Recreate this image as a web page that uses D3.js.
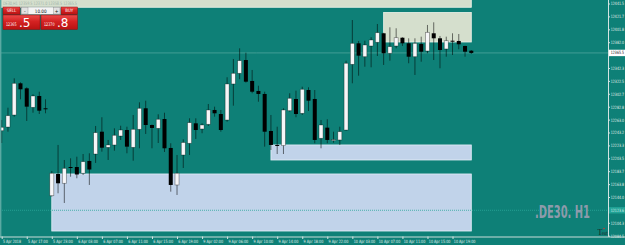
<!DOCTYPE html>
<html>
<head>
<meta charset="utf-8">
<script src="https://cdn.jsdelivr.net/npm/d3@7"></script>
<style>
body { margin: 0; background: #0e8077; }
svg { display: block; }
</style>
</head>
<body>
<div id="chart"></div>
<script>
// DE30 H1 candles
const open = [12245.9, 12251.6, 12270.1, 12318.8, 12311.1, 12281.9, 12299.3, 12280.4, 12146.0, 12179.4,
    12165.1, 12190.1, 12190.1, 12180.5, 12199.4, 12210.1, 12244.4, 12220.4, 12224.0, 12237.8,
    12247.0, 12220.4, 12248.1, 12280.4, 12254.7, 12249.6, 12263.9, 12219.4, 12162.5, 12208.6,
    12226.6, 12257.3, 12248.6, 12255.8, 12277.8, 12271.6, 12262.4, 12317.8, 12334.2, 12354.6,
    12322.4, 12307.0, 12302.4, 12245.5, 12224.0, 12223.2, 12276.7, 12294.7, 12272.7, 12308.5,
    12294.7, 12234.3, 12250.6, 12231.7, 12231.7, 12247.0, 12348.0, 12380.3, 12359.7, 12376.2,
    12381.9, 12395.7, 12365.0, 12376.2, 12388.9, 12380.3, 12359.7, 12379.2, 12368.5, 12395.7,
    12388.0, 12371.6, 12384.3, 12383.9, 12376.2, 12368.9];
const high = [12262.4, 12281.3, 12326.5, 12320.4, 12312.7, 12301.9, 12305.9, 12294.2, 12184.0, 12224.0,
    12200.9, 12203.5, 12206.0, 12210.1, 12211.2, 12253.2, 12266.6, 12231.7, 12249.6, 12253.6,
    12252.1, 12270.1, 12289.6, 12292.1, 12255.5, 12271.2, 12273.6, 12226.6, 12208.6, 12232.7,
    12265.0, 12265.0, 12257.3, 12287.0, 12282.9, 12277.8, 12328.1, 12356.2, 12372.6, 12365.9,
    12339.3, 12315.1, 12305.9, 12270.1, 12252.1, 12280.4, 12303.5, 12307.5, 12313.6, 12312.7,
    12308.5, 12262.4, 12263.5, 12244.4, 12252.1, 12353.6, 12416.1, 12383.9, 12384.3, 12389.6,
    12410.0, 12396.5, 12404.9, 12403.4, 12389.6, 12388.0, 12388.0, 12390.5, 12408.5, 12412.6,
    12391.6, 12390.5, 12395.7, 12394.6, 12376.5, 12370.0];
const low = [12227.0, 12244.4, 12267.5, 12294.2, 12260.9, 12273.6, 12271.6, 12272.7, 12144.5, 12149.7,
    12134.8, 12175.2, 12172.8, 12177.8, 12162.5, 12196.3, 12213.7, 12200.9, 12215.2, 12231.7,
    12211.2, 12199.8, 12218.9, 12240.9, 12218.9, 12227.0, 12213.2, 12152.2, 12147.1, 12188.6,
    12208.6, 12233.2, 12242.0, 12253.2, 12267.5, 12244.4, 12259.8, 12284.4, 12325.0, 12319.8,
    12303.5, 12290.5, 12221.4, 12216.3, 12210.1, 12210.1, 12275.2, 12266.6, 12270.1, 12276.2,
    12226.6, 12218.9, 12226.6, 12227.5, 12224.0, 12245.9, 12318.8, 12330.5, 12344.3, 12343.4,
    12360.8, 12347.0, 12353.6, 12372.6, 12376.2, 12349.6, 12331.6, 12352.0, 12365.0, 12354.6,
    12341.9, 12359.7, 12362.3, 12371.1, 12359.7, 12363.9];
const close = [12251.2, 12269.0, 12318.8, 12309.6, 12282.9, 12299.3, 12276.7, 12280.0, 12180.5, 12165.1,
    12188.1, 12189.6, 12178.6, 12198.3, 12186.3, 12242.9, 12219.8, 12224.0, 12238.9, 12247.0,
    12221.4, 12248.1, 12280.4, 12254.7, 12250.1, 12263.5, 12218.9, 12162.5, 12180.5, 12227.8,
    12258.3, 12247.0, 12254.7, 12277.8, 12272.7, 12247.0, 12317.8, 12334.2, 12353.6, 12321.3,
    12305.9, 12302.4, 12244.4, 12224.0, 12223.5, 12277.8, 12295.8, 12271.6, 12309.6, 12292.1,
    12231.7, 12254.7, 12231.7, 12232.2, 12244.4, 12349.6, 12380.3, 12361.3, 12377.7, 12385.4,
    12396.6, 12365.0, 12375.1, 12388.9, 12380.3, 12359.7, 12380.3, 12367.4, 12397.2, 12388.0,
    12370.0, 12384.3, 12384.0, 12378.8, 12367.4, 12365.5];

const xTickBars = [0, 4, 8, 12, 16, 20, 24, 28, 32, 36, 40, 44, 48, 52, 56, 60, 64, 68, 72];
const xTickLabels = ["5 Apr 2018", "5 Apr 17:00", "5 Apr 23:00", "6 Apr 03:00", "6 Apr 07:00",
    "6 Apr 11:00", "6 Apr 15:00", "6 Apr 19:00", "9 Apr 02:00", "9 Apr 06:00", "9 Apr 10:00",
    "9 Apr 14:00", "9 Apr 18:00", "9 Apr 22:00", "10 Apr 03:00", "10 Apr 07:00", "10 Apr 11:00",
    "10 Apr 15:00", "10 Apr 19:00"];
const yTicks = [12084.5, 12104.3, 12124.2, 12144.0, 12163.8, 12183.7, 12203.5, 12223.3, 12243.2, 12263.0,
    12282.8, 12302.7, 12322.5, 12342.3, 12362.2, 12382.0, 12401.8, 12421.7, 12441.5];

// zones: start bar, end bar, top price, bottom price, kind
const zoneStart = [-2, 61, 43, 8];
const zoneEnd = [75, 75, 75, 75];
const zoneTop = [12460, 12427.7, 12224.0, 12179.4];
const zoneBottom = [12435.7, 12382.3, 12200.9, 12091.7];
const zoneKind = ["supply", "supply", "demand", "demand"];

const bid = 12365.5;
const ask = 12370.8;
const hLine = 12123.6;
const lot = "10.00";
const title = "DE30,H1  12359.5 12371.0 12358.5 12365.5";

const width = 625, height = 245;
const plotW = 608, plotH = 236.5;
const narrow = "'Liberation Sans Narrow', 'DejaVu Sans Condensed', sans-serif";

const svg = d3.select("#chart").append("svg")
    .attr("width", width)
    .attr("height", height)
    .style("font-family", narrow);

// tiny text at a given size and spot, optional len squeezes it to that many pixels
function tiny(sel, size, tx, ty, len) {
    sel.attr("x", tx).attr("y", ty)
        .style("font-size", size + "px")
        .style("font-family", narrow);
    if (len) {
        sel.attr("textLength", function() {
            return typeof len == "function" ? len(this.textContent) : len;
        }).attr("lengthAdjust", "spacingAndGlyphs");
    }
}

const defs = svg.append("defs");
defs.append("clipPath").attr("id", "plot")
    .append("rect").attr("x", 0).attr("y", 0).attr("width", plotW).attr("height", plotH);
const grad = defs.append("linearGradient").attr("id", "red")
    .attr("x1", 0).attr("y1", 0).attr("x2", 0).attr("y2", 1);
grad.append("stop").attr("offset", "0%").attr("stop-color", "#ec4a4a");
grad.append("stop").attr("offset", "45%").attr("stop-color", "#d42222");
grad.append("stop").attr("offset", "100%").attr("stop-color", "#b81212");

svg.append("rect")
    .attr("width", width).attr("height", height)
    .attr("fill", "#0e8077");

const x = d3.scaleLinear().domain([0, 75]).range([1.7, 471.3]);
const y = d3.scaleLinear().domain([12084.5, 12441.5]).range([235.7, 3.5]);

const zoneColor = d3.scaleOrdinal()
    .domain(["supply", "demand"])
    .range(["#d5dfcd", "#c1d3ea"]);

const plot = svg.append("g").attr("clip-path", "url(#plot)");

// zones (behind the candles)
plot.selectAll(".zone")
    .data(zoneStart)
    .enter().append("rect")
    .attr("class", "zone")
    .attr("x", (d, i) => x(d))
    .attr("y", (d, i) => y(zoneTop[i]))
    .attr("width", (d, i) => x(zoneEnd[i]) - x(d))
    .attr("height", (d, i) => y(zoneBottom[i]) - y(zoneTop[i]))
    .attr("fill", (d, i) => zoneColor(zoneKind[i]))
    .attr("stroke", (d, i) => zoneKind[i] == "demand" ? "#e4edf8" : "#eef3ea")
    .attr("stroke-width", 0.8);

// title over the top strip
svg.append("text")
    .style("fill", "#9fb3aa")
    .text(title)
    .call(tiny, 4.6, 3, 5.2, 74);

// bid line
plot.append("line")
    .attr("x1", 0).attr("x2", plotW)
    .attr("y1", y(bid)).attr("y2", y(bid))
    .attr("stroke", "#4fa59d")
    .attr("stroke-width", 0.8);

// dotted horizontal level
plot.append("line")
    .attr("x1", 0).attr("x2", plotW)
    .attr("y1", y(hLine)).attr("y2", y(hLine))
    .attr("stroke", "#2ba79b")
    .attr("stroke-width", 0.8)
    .attr("stroke-dasharray", "1,1");

const bars = d3.range(open.length);

plot.selectAll(".wick")
    .data(bars)
    .enter().append("line")
    .attr("class", "wick")
    .attr("x1", i => x(i)).attr("x2", i => x(i))
    .attr("y1", i => y(high[i])).attr("y2", i => y(low[i]))
    .attr("stroke", "#000")
    .attr("stroke-opacity", 0.6)
    .attr("stroke-width", 0.9);

plot.selectAll(".body")
    .data(bars)
    .enter().append("rect")
    .attr("class", "body")
    .attr("x", i => x(i) - 2)
    .attr("width", 4)
    .attr("y", i => y(Math.max(open[i], close[i])))
    .attr("height", i => Math.max(1, Math.abs(y(open[i]) - y(close[i]))))
    .attr("fill", i => close[i] > open[i] ? "#f6f6f8" : "#000")
    .attr("stroke", "#000")
    .attr("stroke-opacity", i => close[i] > open[i] ? 0.45 : 0)
    .attr("stroke-width", 0.7);

// frame
svg.append("line")
    .attr("x1", 0.7).attr("x2", 0.7).attr("y1", 0).attr("y2", plotH)
    .attr("stroke", "#5aa9a2").attr("stroke-width", 1.4);

// right price axis
const yAxis = svg.append("g")
    .attr("transform", `translate(${plotW},0)`)
    .call(d3.axisRight(y).tickValues(yTicks).tickSize(2).tickFormat(d3.format(".1f")));
yAxis.select(".domain").attr("stroke", "#d4e4e2").attr("stroke-width", 1).attr("d", `M0.5,0V${plotH}`);
yAxis.selectAll(".tick line").attr("stroke", "#d4e4e2");
yAxis.selectAll(".tick text")
    .style("fill", "#e4efed")
    .call(tiny, 4.4, 2.8, 0, 13.2);
// labels hidden behind the price markers
yAxis.selectAll(".tick")
    .filter(d => Math.abs(y(d) - y(bid)) < 5 || Math.abs(y(d) - y(hLine)) < 5)
    .select("text").remove();

// bottom time axis
const xAxis = svg.append("g")
    .attr("transform", `translate(0,${plotH})`)
    .call(d3.axisBottom(x).tickValues(xTickBars).tickSize(2.5).tickFormat((d, i) => xTickLabels[i]));
xAxis.select(".domain").attr("stroke", "#c9dcda").attr("stroke-width", 1).attr("d", `M0,0.5H${width}`);
xAxis.selectAll(".tick line").attr("stroke", "#d4e4e2");
xAxis.selectAll(".tick text")
    .attr("dy", "0.71em")
    .style("text-anchor", "start")
    .style("fill", "#e4efed")
    .call(tiny, 4.4, 0.8, 3.4, s => s.length * 1.8);

// price markers on the axis
svg.append("rect")
    .attr("x", plotW + 1).attr("y", y(bid) - 3.2)
    .attr("width", width - plotW - 1).attr("height", 6.4)
    .attr("fill", "#ffffff");
svg.append("text")
    .attr("dy", "0.32em")
    .style("fill", "#111")
    .text(d3.format(".1f")(bid))
    .call(tiny, 4.4, plotW + 2.8, y(bid), 13.2);

svg.append("rect")
    .attr("x", plotW + 1).attr("y", y(hLine) - 3.2)
    .attr("width", width - plotW - 1).attr("height", 6.4)
    .attr("fill", "#22a396");
svg.append("text")
    .attr("dy", "0.32em")
    .style("fill", "#cfeeea")
    .text(d3.format(".1f")(hLine))
    .call(tiny, 4.4, plotW + 2.8, y(hLine), 13.2);

// symbol watermark
svg.append("text")
    .attr("x", 535).attr("y", 218)
    .attr("textLength", 55)
    .attr("lengthAdjust", "spacingAndGlyphs")
    .style("font-family", narrow)
    .style("font-weight", "bold")
    .style("font-size", "17px")
    .style("fill", "#8c9bab")
    .text(".DE30. H1");

// small text object near the corner
svg.append("text")
    .attr("x", 597.5).attr("y", 235)
    .style("font-family", "'Liberation Serif', serif")
    .style("font-size", "8px")
    .style("fill", "#1b2626")
    .text("T");
svg.append("text")
    .style("fill", "#1b2626")
    .text("ext")
    .call(tiny, 5, 601.8, 235, 6);
svg.append("circle").attr("cx", 604).attr("cy", 228.5).attr("r", 0.8).attr("fill", "#c33");

// one-click trading panel
const panel = svg.append("g");
const sellText = String(Math.floor(bid)), sellFrac = "." + String(bid).split(".")[1];
const buyText = String(Math.floor(ask)), buyFrac = "." + String(ask).split(".")[1];

panel.append("rect").attr("x", 3).attr("y", 7).attr("width", 17).attr("height", 7.5)
    .attr("fill", "url(#red)").attr("stroke", "#8d0d0d").attr("stroke-width", 0.5);
panel.append("text").attr("text-anchor", "middle")
    .style("fill", "#fff").text("SELL")
    .call(tiny, 4.4, 11.5, 12.4);

panel.append("rect").attr("x", 61).attr("y", 7).attr("width", 16.5).attr("height", 7.5)
    .attr("fill", "url(#red)").attr("stroke", "#8d0d0d").attr("stroke-width", 0.5);
panel.append("text").attr("text-anchor", "middle")
    .style("fill", "#fff").text("BUY")
    .call(tiny, 4.4, 69.2, 12.4);

panel.append("rect").attr("x", 21).attr("y", 7).attr("width", 39.5).attr("height", 7.5)
    .attr("fill", "#f4f4f4").attr("stroke", "#7a8a88").attr("stroke-width", 0.5);
panel.append("rect").attr("x", 21.5).attr("y", 7.5).attr("width", 6.5).attr("height", 6.5)
    .attr("fill", "#e2e2e2").attr("stroke", "#8a8a8a").attr("stroke-width", 0.4);
panel.append("rect").attr("x", 53.5).attr("y", 7.5).attr("width", 6.5).attr("height", 6.5)
    .attr("fill", "#e2e2e2").attr("stroke", "#8a8a8a").attr("stroke-width", 0.4);
panel.append("text").attr("text-anchor", "middle")
    .style("fill", "#111").text("-")
    .call(tiny, 5, 24.7, 12.5);
panel.append("text").attr("text-anchor", "middle")
    .style("fill", "#111").text("+")
    .call(tiny, 5, 56.7, 12.6);
panel.append("text").attr("text-anchor", "middle")
    .style("fill", "#111").text(lot)
    .call(tiny, 4.6, 40.7, 12.5);

panel.append("rect").attr("x", 3).attr("y", 15).attr("width", 37).attr("height", 14.5)
    .attr("fill", "url(#red)").attr("stroke", "#8d0d0d").attr("stroke-width", 0.5);
panel.append("text").style("fill", "#fff").text(sellText)
    .call(tiny, 4.8, 6, 26.3, 10.5);
panel.append("text").attr("x", 19).attr("y", 27)
    .style("fill", "#fff").style("font-size", "12px")
    .style("font-family", "'DejaVu Sans', sans-serif")
    .text(sellFrac);

panel.append("rect").attr("x", 41).attr("y", 15).attr("width", 36.5).attr("height", 14.5)
    .attr("fill", "url(#red)").attr("stroke", "#8d0d0d").attr("stroke-width", 0.5);
panel.append("text").style("fill", "#fff").text(buyText)
    .call(tiny, 4.8, 44, 26.3, 10.5);
panel.append("text").attr("x", 57).attr("y", 27)
    .style("fill", "#fff").style("font-size", "12px")
    .style("font-family", "'DejaVu Sans', sans-serif")
    .text(buyFrac);
</script>
</body>
</html>
